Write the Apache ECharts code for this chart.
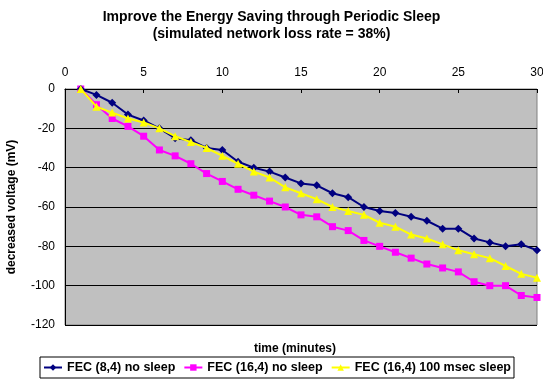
<!DOCTYPE html>
<html><head><meta charset="utf-8">
<script src="https://cdn.jsdelivr.net/npm/echarts@6/dist/echarts.min.js"></script>
<style>html,body{margin:0;padding:0;background:#fff}#c{width:543px;height:379px}</style>
</head><body><div id="c"></div>
<script>
const minutes = [1,2,3,4,5,6,7,8,9,10,11,12,13,14,15,16,17,18,19,20,21,22,23,24,25,26,27,28,29,30];
const fec84NoSleep = [0,-3,-7,-13,-16,-20,-25,-26,-30,-31,-37,-40,-42,-45,-48,-49,-53,-55,-60,-62,-63,-65,-67,-71,-71,-76,-78,-80,-79,-82];
const fec164NoSleep = [0,-8,-15,-19,-24,-31,-34,-38,-43,-47,-51,-54,-57,-60,-64,-65,-70,-72,-77,-80,-83,-86,-89,-91,-93,-98,-100,-100,-105,-106];
const fec164Sleep = [0,-9,-12,-15,-17,-20,-24,-27,-30,-34,-38,-42,-45,-50,-53,-56,-60,-62,-64,-68,-70,-74,-76,-79,-82,-84,-86,-90,-94,-96];
const seriesNames = ['FEC (8,4) no sleep','FEC (16,4) no sleep','FEC (16,4) 100 msec sleep'];

const pair = arr => minutes.map((m,i)=>[m,arr[i]]);
const chart = echarts.init(document.getElementById('c'));
const font = 'Liberation Sans, Arial, sans-serif';
chart.setOption({
  animation:false,
  title:[{
    text:'Improve the Energy Saving through Periodic Sleep\n(simulated network loss rate = 38%)',
    left:'center', top:4,
    textStyle:{fontFamily:font,fontSize:14,fontWeight:'bold',color:'#000',lineHeight:17}
  },{
    text:'time (minutes)', left:290, top:338, textAlign:'center',
    textStyle:{fontFamily:font,fontSize:12,fontWeight:'bold',color:'#000'}
  }],
  grid:{left:65,right:6,top:89,bottom:54,outerBoundsMode:'none',containLabel:false,show:true,backgroundColor:'#C0C0C0',borderColor:'#808080',borderWidth:1},
  legend:{
    data:seriesNames, left:40, top:357,
    itemGap:8, itemWidth:18, itemHeight:8,
    borderColor:'#000', borderWidth:1, padding:[4,3,4,3],
    textStyle:{fontFamily:font,fontSize:12.5,fontWeight:'bold',color:'#000'}
  },
  xAxis:{
    type:'value', position:'top', min:0, max:30, interval:5,
    axisLine:{show:true,lineStyle:{color:'#000',width:1}},
    axisTick:{show:true,inside:true,length:4,lineStyle:{color:'#000'}},
    axisLabel:{fontFamily:font,fontSize:12,color:'#000',margin:10},
    splitLine:{show:false}
  },
  yAxis:{
    type:'value', min:-120, max:0, interval:20,
    name:'decreased voltage (mV)', nameLocation:'middle', nameGap:47, nameRotate:90,
    nameTextStyle:{fontFamily:font,fontSize:12,fontWeight:'bold',color:'#000'},
    axisLine:{show:true,onZero:false,lineStyle:{color:'#000',width:1}},
    axisTick:{show:false},
    axisLabel:{fontFamily:font,fontSize:12,color:'#000',margin:10},
    splitLine:{show:true,lineStyle:{color:'#000',width:1}}
  },
  series:[
    {name:seriesNames[0],type:'line',data:pair(fec84NoSleep),symbol:'diamond',symbolSize:8,
     lineStyle:{color:'#000080',width:2},itemStyle:{color:'#000080'},z:3},
    {name:seriesNames[1],type:'line',data:pair(fec164NoSleep),symbol:'rect',symbolSize:7,
     lineStyle:{color:'#FF00FF',width:2},itemStyle:{color:'#FF00FF'},z:2},
    {name:seriesNames[2],type:'line',data:pair(fec164Sleep),symbol:'triangle',symbolSize:8,
     lineStyle:{color:'#FFFF00',width:2},itemStyle:{color:'#FFFF00'},z:4}
  ]
});
</script></body></html>
